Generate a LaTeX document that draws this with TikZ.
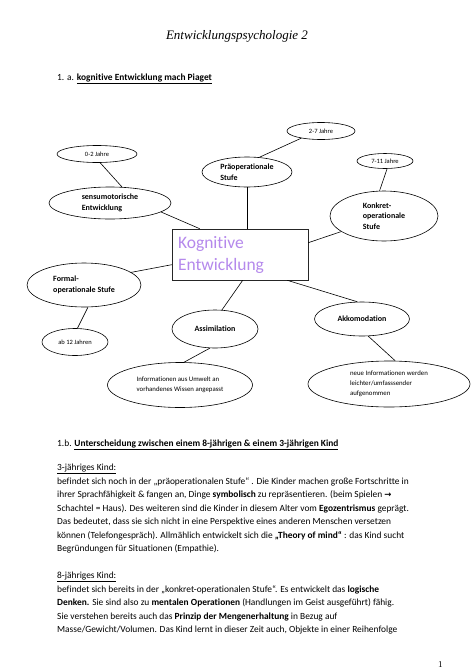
\documentclass[tikz,border=0pt]{standalone}
\usepackage{fontspec}
\setmainfont{Carlito}[Ligatures={TeX,NoCommon}]
\newfontfamily\titlefont{Liberation Serif}
\newfontfamily\symfont{DejaVu Sans}
\usetikzlibrary{shapes.geometric,calc}
\definecolor{kogcol}{RGB}{181,137,236}
\begin{document}
\begin{tikzpicture}[x=1pt,y=-1pt,
  ell/.style={draw, ellipse, line width=0.6pt, inner sep=0pt, align=left, font=\bfseries\fontsize{8}{10.5}\selectfont},
  age/.style={draw, ellipse, line width=0.6pt, inner sep=0pt, font=\fontsize{6.5}{8}\selectfont},
  info/.style={draw, ellipse, line width=0.6pt, inner sep=0pt, align=left, font=\fontsize{6.8}{10}\selectfont},
  conn/.style={line width=0.6pt},
  body/.style={anchor=base west, inner sep=0pt, font=\fontsize{9.4}{12}\selectfont}]
\useasboundingbox[fill=white] (0,0) rectangle (474,670);

% title
\node[inner sep=0pt, font=\titlefont\itshape\fontsize{13}{14}\selectfont] (title) at (237,36) {Entwicklungspsychologie 2};
\node[body] (h1a) at (57,80) {1. a. \textbf{\underline{kognitive Entwicklung mach Piaget}}};

% central box
\node[draw, line width=0.6pt, draw=black!85, minimum width=136pt, minimum height=51pt, inner sep=0pt,
      text width=124pt, align=left, text=kogcol, font=\fontsize{17.5}{22}\selectfont] (box) at (240,254.5) {Kognitive\\Entwicklung};

% ellipses
\node[age, minimum width=80pt, minimum height=17pt] (n02) at (97,154) {0-2 Jahre};
\node[ell, minimum width=122pt, minimum height=32pt] (sensu) at (110,203) {sensumotorische\\Entwicklung};
\node[ell, minimum width=90pt, minimum height=30pt] (prae) at (247,172) {Präoperationale\\Stufe};
\node[age, minimum width=68pt, minimum height=17pt] (n27) at (321,131) {2-7 Jahre};
\node[age, minimum width=56pt, minimum height=15pt] (n711) at (385,161) {7-11 Jahre};
\node[ell, minimum width=108pt, minimum height=50pt] (konkret) at (384,216) {Konkret-\\operationale\\Stufe};
\node[ell, minimum width=114pt, minimum height=44pt] (formal) at (84,285) {Formal-\\operationale Stufe};
\node[age, minimum width=66pt, minimum height=27pt] (ab12) at (75,342) {ab 12 Jahren};
\node[ell, minimum width=86pt, minimum height=38pt] (assim) at (215,329) {Assimilation};
\node[info, minimum width=145pt, minimum height=45pt] (infoA) at (180,385) {Informationen aus Umwelt an\\vorhandenes Wissen angepasst};
\node[ell, minimum width=95pt, minimum height=34pt] (akko) at (362,319) {Akkomodation};
\node[info, minimum width=162pt, minimum height=46pt] (neue) at (389,384) {neue Informationen werden\\leichter/umfasssender\\aufgenommen};

% connectors
\draw[conn] (n02.-70) -- (sensu.53);
\draw[conn] (sensu.-10) -- ($(box.north west)+(28,0)$);
\draw[conn] (prae.south) -- (prae.south |- box.north);
\draw[conn] (n27.-160) -- (prae.50);
\draw[conn] (n711.-75) -- (konkret.100);
\draw[conn] (konkret.-160) -- ($(box.north east)+(0,14)$);
\draw[conn] (formal.15) -- ($(box.north west)+(0,36)$);
\draw[conn] (formal.-80) -- (ab12.80);
\draw[conn] ($(box.south west)+(71,0)$) -- (assim.70);
\draw[conn] (assim.-105) -- (infoA.80);
\draw[conn] ($(box.south east)+(-21,0)$) -- (akko.105);
\draw[conn] (akko.-70) -- (neue.75);

% text part
\node[body] (h1b) at (57,446) {1.b. \textbf{\underline{Unterscheidung zwischen einem 8-jährigen \& einem 3-jährigen Kind}}};
\node[body] (k3) at (57,470) {\underline{3-jähriges Kind:}};
\node[body] (l1) at (57,484) {befindet sich noch in der „präoperationalen Stufe“ . Die Kinder machen große Fortschritte in};
\node[body] (l2) at (57,497) {ihrer Sprachfähigkeit \& fangen an, Dinge \textbf{symbolisch} zu repräsentieren. (beim Spielen {\symfont\bfseries\fontsize{8.5}{10}\selectfont →}};
\node[body] (l3) at (57,511) {Schachtel = Haus). Des weiteren sind die Kinder in diesem Alter vom \textbf{Egozentrismus} geprägt.};
\node[body] (l4) at (57,524) {Das bedeutet, dass sie sich nicht in eine Perspektive eines anderen Menschen versetzen};
\node[body] (l5) at (57,538) {können (Telefongespräch). Allmählich entwickelt sich die \textbf{„Theory of mind“} : das Kind sucht};
\node[body] (l6) at (57,551) {Begründungen für Situationen (Empathie).};
\node[body] (k8) at (57,578) {\underline{8-jähriges Kind:}};
\node[body] (m1) at (57,592) {befindet sich bereits in der „konkret-operationalen Stufe“. Es entwickelt das \textbf{logische}};
\node[body] (m2) at (57,605) {\textbf{Denken.} Sie sind also zu \textbf{mentalen Operationen} (Handlungen im Geist ausgeführt) fähig.};
\node[body] (m3) at (57,619) {Sie verstehen bereits auch das \textbf{Prinzip der Mengenerhaltung} in Bezug auf};
\node[body] (m4) at (57,632) {Masse/Gewicht/Volumen. Das Kind lernt in dieser Zeit auch, Objekte in einer Reihenfolge};
\node[body, font=\titlefont\fontsize{9}{10}\selectfont] (pnum) at (438,667) {1};
\end{tikzpicture}
\end{document}
